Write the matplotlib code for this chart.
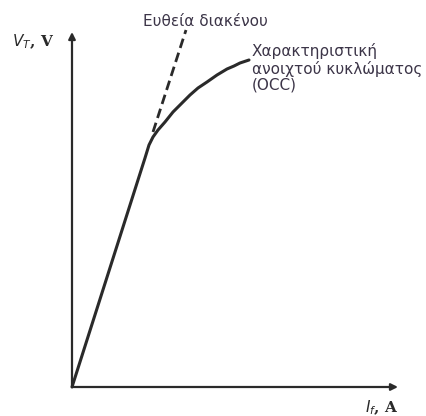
import matplotlib
matplotlib.use("Agg")
import matplotlib.pyplot as plt

# Data (arbitrary units: field current vs terminal voltage)
occ_if = [0, 73, 77, 81, 86, 93, 101, 110, 118, 126, 135, 145, 155, 162, 168, 177]
occ_vt = [0, 229, 242, 250, 257, 265, 275, 284, 292, 299, 305, 312, 318, 321, 324, 327]
air_if = [81, 114]
air_vt = [255, 357]
x_axis_end = 326
y_axis_end = 355

fig = plt.figure(figsize=(4.27, 4.16), dpi=100)
ax = fig.add_axes([0, 0, 1, 1])
ax.set_xlim(-72, 355)
ax.set_ylim(-29, 387)
ax.axis("off")

# axes with arrows
ax.annotate("", xy=(x_axis_end, 0), xytext=(0, 0),
            arrowprops=dict(arrowstyle="-|>", color="#2a2a2a", lw=1.6,
                            mutation_scale=10, shrinkA=0, shrinkB=0))
ax.annotate("", xy=(0, y_axis_end), xytext=(0, 0),
            arrowprops=dict(arrowstyle="-|>", color="#2a2a2a", lw=1.6,
                            mutation_scale=10, shrinkA=0, shrinkB=0))

ax.plot(occ_if, occ_vt, color="#2a2a2a", lw=2.2, solid_capstyle="round",
        solid_joinstyle="round")
ax.plot(air_if, air_vt, color="#2a2a2a", lw=2.0, ls=(0, (3.5, 1.8)))

ax.text(-60, 345, r"$\mathbf{\mathit{V_T}}$, V", fontsize=11, family="DejaVu Serif",
        fontweight="bold", color="#2a2a2a", va="center", ha="left")
ax.text(293, -21, r"$\mathbf{\mathit{I_f}}$, A", fontsize=11, family="DejaVu Serif",
        fontweight="bold", color="#2a2a2a", va="center", ha="left")

ax.text(71, 365, "Ευθεία διακένου", fontsize=11, color="#3c3548",
        va="center", ha="left")
ax.text(180, 319, "Χαρακτηριστική\nανοιχτού κυκλώματος\n(OCC)", fontsize=11,
        color="#3c3548", va="center", ha="left", linespacing=1.12)

fig.savefig("out.png", dpi=100)
